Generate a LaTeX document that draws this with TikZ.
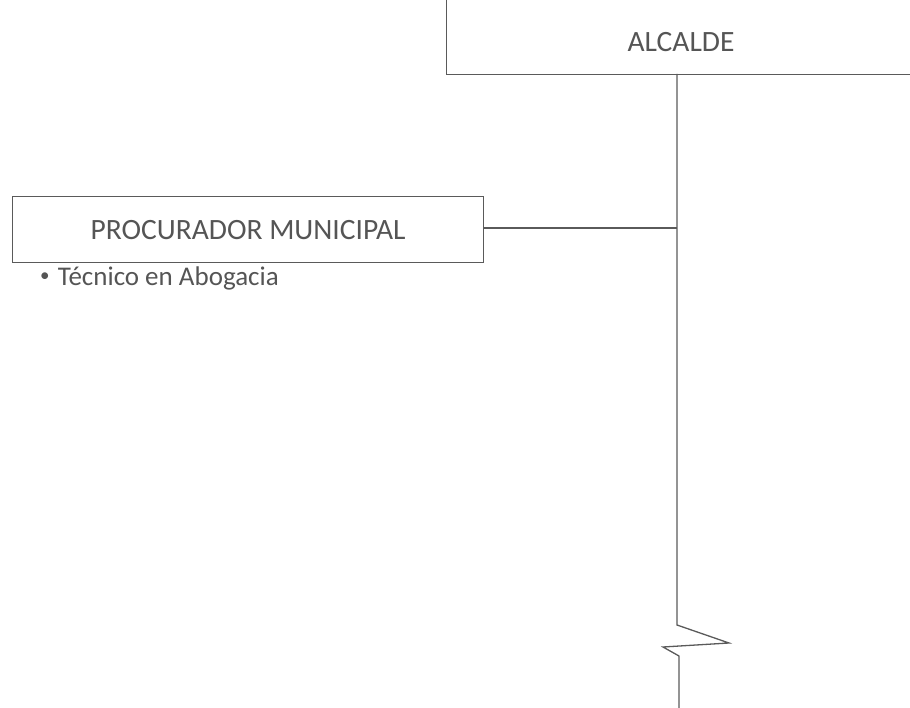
\documentclass[tikz,border=0pt]{standalone}
\usepackage{fontspec}
\setmainfont{Carlito}
\definecolor{ink}{HTML}{5A5A5A}
\definecolor{txt}{HTML}{555555}
\begin{document}
\begin{tikzpicture}[x=1pt,y=-1pt,
  orgbox/.style={draw=ink, line width=1.2pt, inner sep=0pt, text=txt, font=\fontsize{29.5}{34}\selectfont},
  conn/.style={draw=ink, line width=1.3pt}]
\useasboundingbox (0,0) rectangle (910,708);
\clip (0,0) rectangle (910,708);
\node[orgbox, minimum width=470, minimum height=86, anchor=north west] (alc) at (446,-12) {};
\node[text=txt, font=\fontsize{29.5}{34}\selectfont] (alct) at (681,42) {ALCALDE};
\node[orgbox, minimum width=471, minimum height=66, anchor=north west] (proc) at (12,196) {PROCURADOR MUNICIPAL};
\node[text=txt, font=\fontsize{27}{32}\selectfont, anchor=west, inner sep=0pt] (tec) at (40,278) {\raisebox{4pt}{\fontsize{19}{20}\selectfont\textbullet}\hspace{0.3em}Técnico en Abogacia};
\coordinate (top) at (677,74);
\coordinate (j) at (677,228);
\coordinate (z1) at (677,625);
\coordinate (z2) at (729,643);
\coordinate (z3) at (663,647);
\coordinate (z4) at (679,656);
\coordinate (bot) at (679,710);
\draw[conn] (top) -- (j) -- (z1) -- (z2) -- (z3) -- (z4) -- (bot);
\draw[conn] (proc.east |- j) -- (j);
\end{tikzpicture}
\end{document}
